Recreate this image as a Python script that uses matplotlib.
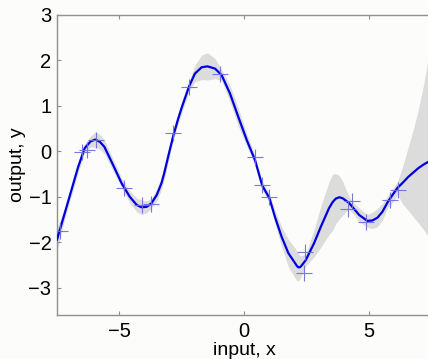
import matplotlib
matplotlib.use("Agg")
import matplotlib.pyplot as plt
import numpy as np

# Posterior mean
x_mean = [-7.5, -7.19, -6.92, -6.65, -6.39, -6.15, -5.96, -5.78, -5.60, -5.25,
          -4.91, -4.58, -4.30, -4.11, -3.90, -3.71, -3.50, -3.31, -3.20, -3.10,
          -3.00, -2.90, -2.83, -2.77, -2.65, -2.50, -2.21, -1.97, -1.70, -1.46,
          -1.16, -0.90, -0.56, -0.23, 0.11, 0.44, 0.73, 1.02, 1.24, 1.51,
          1.78, 2.05, 2.12, 2.18, 2.24, 2.30, 2.48, 2.81, 3.08, 3.41,
          3.55, 3.68, 3.82, 3.95, 4.08, 4.22, 4.42, 4.62, 4.95, 5.15,
          5.35, 5.55, 5.76, 5.93, 6.16, 6.35, 6.59, 6.80, 6.99, 7.20,
          7.39, 7.5]
y_mean = [-1.94, -1.36, -0.85, -0.34, 0.07, 0.22, 0.26, 0.21, 0.10, -0.30,
          -0.70, -1.00, -1.18, -1.23, -1.22, -1.14, -0.96, -0.70, -0.48, -0.25,
          -0.02, 0.20, 0.36, 0.47, 0.70, 0.96, 1.42, 1.71, 1.85, 1.87,
          1.82, 1.68, 1.27, 0.76, 0.25, -0.19, -0.75, -1.03, -1.44, -1.88,
          -2.24, -2.46, -2.52, -2.55, -2.55, -2.52, -2.39, -2.02, -1.66, -1.25,
          -1.12, -1.04, -1.01, -1.03, -1.08, -1.14, -1.27, -1.40, -1.53, -1.52,
          -1.46, -1.33, -1.12, -0.98, -0.80, -0.70, -0.56, -0.46, -0.37, -0.29,
          -0.23, -0.20]
# Extent of the grey confidence band above / below the mean at each x_mean
band_up = [0.25, 0.12, 0.12, 0.12, 0.10, 0.12, 0.17, 0.16, 0.15, 0.13,
           0.11, 0.13, 0.15, 0.16, 0.13, 0.11, 0.13, 0.14, 0.14, 0.13,
           0.12, 0.11, 0.11, 0.11, 0.12, 0.12, 0.11, 0.18, 0.27, 0.30,
           0.22, 0.12, 0.18, 0.20, 0.14, 0.10, 0.10, 0.10, 0.14, 0.22,
           0.30, 0.33, 0.32, 0.30, 0.26, 0.22, 0.13, 0.30, 0.45, 0.58,
           0.62, 0.55, 0.48, 0.38, 0.25, 0.14, 0.13, 0.15, 0.14, 0.18,
           0.20, 0.18, 0.14, 0.13, 0.14, 0.35, 0.66, 0.96, 1.29, 1.74,
           2.28, 2.65]
band_down = [0.25, 0.12, 0.12, 0.12, 0.10, 0.12, 0.17, 0.16, 0.15, 0.13,
             0.11, 0.13, 0.15, 0.16, 0.13, 0.11, 0.13, 0.14, 0.14, 0.13,
             0.12, 0.11, 0.11, 0.11, 0.12, 0.12, 0.11, 0.18, 0.27, 0.30,
             0.22, 0.12, 0.18, 0.20, 0.14, 0.10, 0.10, 0.10, 0.14, 0.22,
             0.30, 0.33, 0.32, 0.30, 0.26, 0.22, 0.13, 0.30, 0.45, 0.58,
             0.62, 0.55, 0.48, 0.38, 0.25, 0.14, 0.13, 0.15, 0.14, 0.18,
             0.20, 0.18, 0.12, 0.17, 0.15, 0.45, 0.74, 0.99, 1.20, 1.43,
             1.65, 1.77]

# Observations (crosses)
x_obs = [-7.39, -6.50, -6.30, -5.94, -4.81, -4.09, -3.73, -2.83, -2.21, -0.96,
         0.44, 0.73, 1.02, 2.45, 2.41, 4.35, 4.19, 4.90, 5.84, 6.17]
y_obs = [-1.745, -0.02, 0.03, 0.25, -0.81, -1.18, -1.165, 0.41, 1.42, 1.71,
         -0.13, -0.75, -1.00, -2.22, -2.68, -1.09, -1.27, -1.56, -1.07, -0.85]

xticks = [-5, 0, 5]
yticks = [-3, -2, -1, 0, 1, 2, 3]

bg = '#fcfcfa'
fig = plt.figure(figsize=(4.28, 3.59), dpi=100, facecolor=bg)
ax = fig.add_axes([57/428, 44/359, (431-57)/428, 300/359])
ax.set_facecolor(bg)

xm = np.array(x_mean); ym = np.array(y_mean)
ax.fill_between(xm, ym - np.array(band_down), ym + np.array(band_up),
                color='#dcdcdc', linewidth=0, zorder=1)
ax.plot(xm, ym, color='#0000dd', linewidth=1.6, zorder=3,
        solid_joinstyle='round')
ax.plot(x_obs, y_obs, linestyle='none', marker='+', markersize=11,
        markeredgewidth=0.8, color='#6a6ae0', alpha=0.9, zorder=4)

ax.set_xlim(-7.5, 7.5)
ax.set_ylim(-3.6, 3)
ax.set_xticks(xticks)
ax.set_yticks(yticks)
ax.set_xticklabels(['\u2212%d' % -t if t < 0 else '%d' % t for t in xticks])
ax.set_yticklabels(['\u2212%d' % -t if t < 0 else '%d' % t for t in yticks])

font = 'Liberation Sans'
for lab in ax.get_xticklabels() + ax.get_yticklabels():
    lab.set_fontfamily(font)
    lab.set_fontsize(14.5)
ax.tick_params(direction='in', length=3, width=0.8, color='#909090',
               top=True, right=False, pad=4)
ax.tick_params(axis='x', pad=5)
for s in ['left', 'bottom', 'top']:
    ax.spines[s].set_color('#909090')
    ax.spines[s].set_linewidth(1.0)
ax.spines['right'].set_visible(False)

ax.set_xlabel('input, x', fontfamily=font, fontsize=14, labelpad=1)
ax.set_ylabel('output, y', fontfamily=font, fontsize=14, labelpad=2)

fig.savefig('out.png', dpi=100, facecolor=bg)
